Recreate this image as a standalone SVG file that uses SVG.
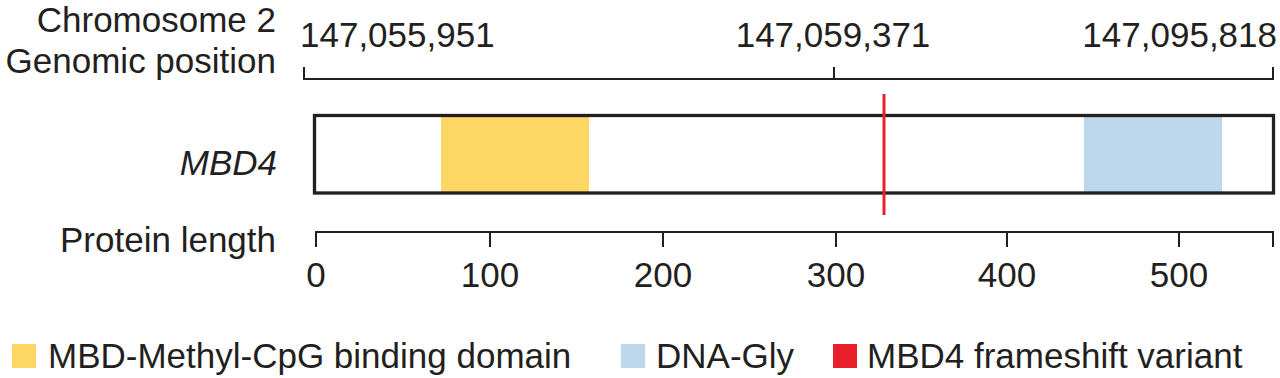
<svg xmlns="http://www.w3.org/2000/svg" width="1280" height="378" viewBox="0 0 1280 378">
<style>
text{font-family:"Liberation Sans",Arial,Helvetica,sans-serif;font-size:35px;fill:#231f20}
.r{text-anchor:end}
.m{text-anchor:middle}
.ax{stroke:#231f20;stroke-width:2;fill:none}
</style>
<rect width="1280" height="378" fill="#fff"/>
<g id="labels">
<text class="r" x="276" y="32">Chromosome 2</text>
<text class="r" x="276" y="73">Genomic position</text>
<text class="r" x="277" y="175" font-style="italic">MBD4</text>
<text class="r" x="276" y="252">Protein length</text>
</g>
<g id="genomic-axis">
<path class="ax" d="M304,67 V79 H1273 V67 M834,67 V79"/>
<text x="300" y="47">147,055,951</text>
<text class="m" x="833" y="47">147,059,371</text>
<text class="r" x="1277" y="47">147,095,818</text>
</g>
<g id="mbd4-gene">
<rect x="441" y="117" width="148" height="75" fill="#fdd663"/>
<rect x="1084" y="117" width="138" height="75" fill="#bdd7ec"/>
<rect x="314.5" y="115.5" width="959" height="77.5" fill="none" stroke="#231f20" stroke-width="3.3"/>
<line x1="884" y1="94" x2="884" y2="215" stroke="#e8202a" stroke-width="3"/>
</g>
<g id="protein-axis">
<path class="ax" d="M316,247 V232 H1273 V247 M490,232 V247 M663,232 V247 M836,232 V247 M1007,232 V247 M1179,232 V247"/>
<text class="m" x="316" y="287">0</text>
<text class="m" x="490" y="287">100</text>
<text class="m" x="663" y="287">200</text>
<text class="m" x="836" y="287">300</text>
<text class="m" x="1007" y="287">400</text>
<text class="m" x="1179" y="287">500</text>
</g>
<g id="legend">
<rect x="12" y="344" width="24" height="24" fill="#fdd663"/>
<text x="48" y="368">MBD-Methyl-CpG binding domain</text>
<rect x="621" y="344" width="24" height="24" fill="#bdd7ec"/>
<text x="656" y="368">DNA-Gly</text>
<rect x="833" y="344" width="24" height="24" fill="#e8202a"/>
<text x="867" y="368">MBD4 frameshift variant</text>
</g>
</svg>
